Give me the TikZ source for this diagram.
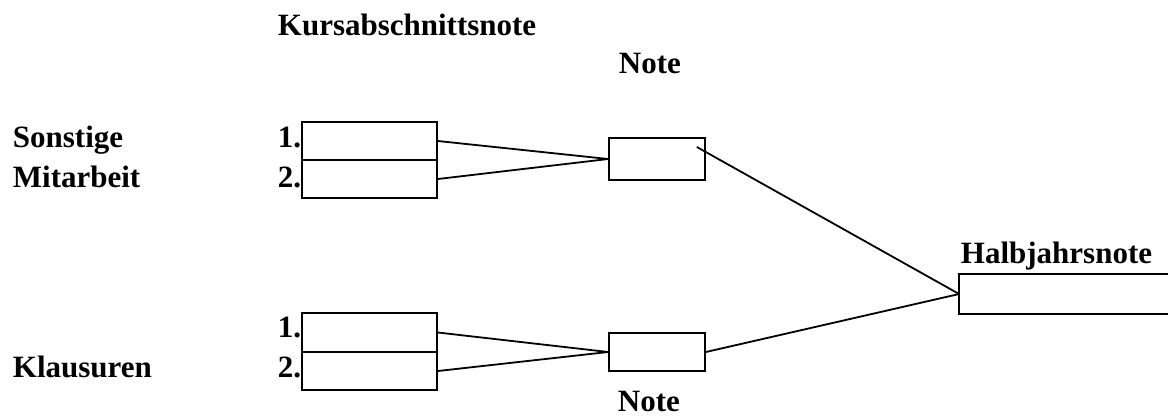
\documentclass[tikz,border=0pt]{standalone}
\usepackage{fontspec}
\setmainfont{Liberation Serif}
\usetikzlibrary{calc}
\begin{document}
\begin{tikzpicture}[x=1bp,y=-1bp,
  line width=1.8bp,
  lbl/.style={anchor=base west,inner sep=0pt,font=\bfseries\fontsize{31bp}{36bp}\selectfont},
  gbox/.style={draw,rectangle,inner sep=0pt,minimum width=135bp},
  nbox/.style={draw,rectangle,inner sep=0pt,minimum width=96bp},
  conn/.style={line width=1.8bp}]
\useasboundingbox (0,0) rectangle (1168,416);
% labels
\node[lbl] (tks) at (277,35) {Kursabschnittsnote};
\node[lbl] (tn1) at (618,73) {Note};
\node[lbl] (tso) at (12,147) {Sonstige};
\node[lbl] (tmi) at (12,187) {Mitarbeit};
\node[lbl] (ts1) at (277,147) {1.};
\node[lbl] (ts2) at (277,187) {2.};
\node[lbl] (tk1) at (277,337) {1.};
\node[lbl] (tk2) at (277,377) {2.};
\node[lbl] (tkl) at (12,377) {Klausuren};
\node[lbl] (tn2) at (617,411) {Note};
\node[lbl] (thj) at (960,263) {Halbjahrsnote};
% boxes
\node[gbox,minimum height=38bp] (s1) at (369.5,141) {};
\node[gbox,minimum height=38bp] (s2) at (369.5,179) {};
\node[gbox,minimum height=39bp] (k1) at (369.5,332.5) {};
\node[gbox,minimum height=38bp] (k2) at (369.5,371) {};
\node[nbox,minimum height=42bp] (n1) at (657,159) {};
\node[nbox,minimum height=38bp] (n2) at (657,352) {};
\node[inner sep=0pt,minimum width=208bp,minimum height=38bp] (h) at (1064,294) {};
\draw (h.north east) -- (h.north west) -- (h.south west) -- (h.south east);
% connectors
\draw[conn] (s1.east) -- (n1.west);
\draw[conn] (s2.east) -- (n1.west);
\draw[conn] (k1.east) -- (n2.west);
\draw[conn] (k2.east) -- (n2.west);
\coordinate (n1in) at ($(n1.east)+(-9,-12)$);
\draw[conn] (n1in) -- (h.west);
\draw[conn] (n2.east) -- (h.west);
\end{tikzpicture}
\end{document}
